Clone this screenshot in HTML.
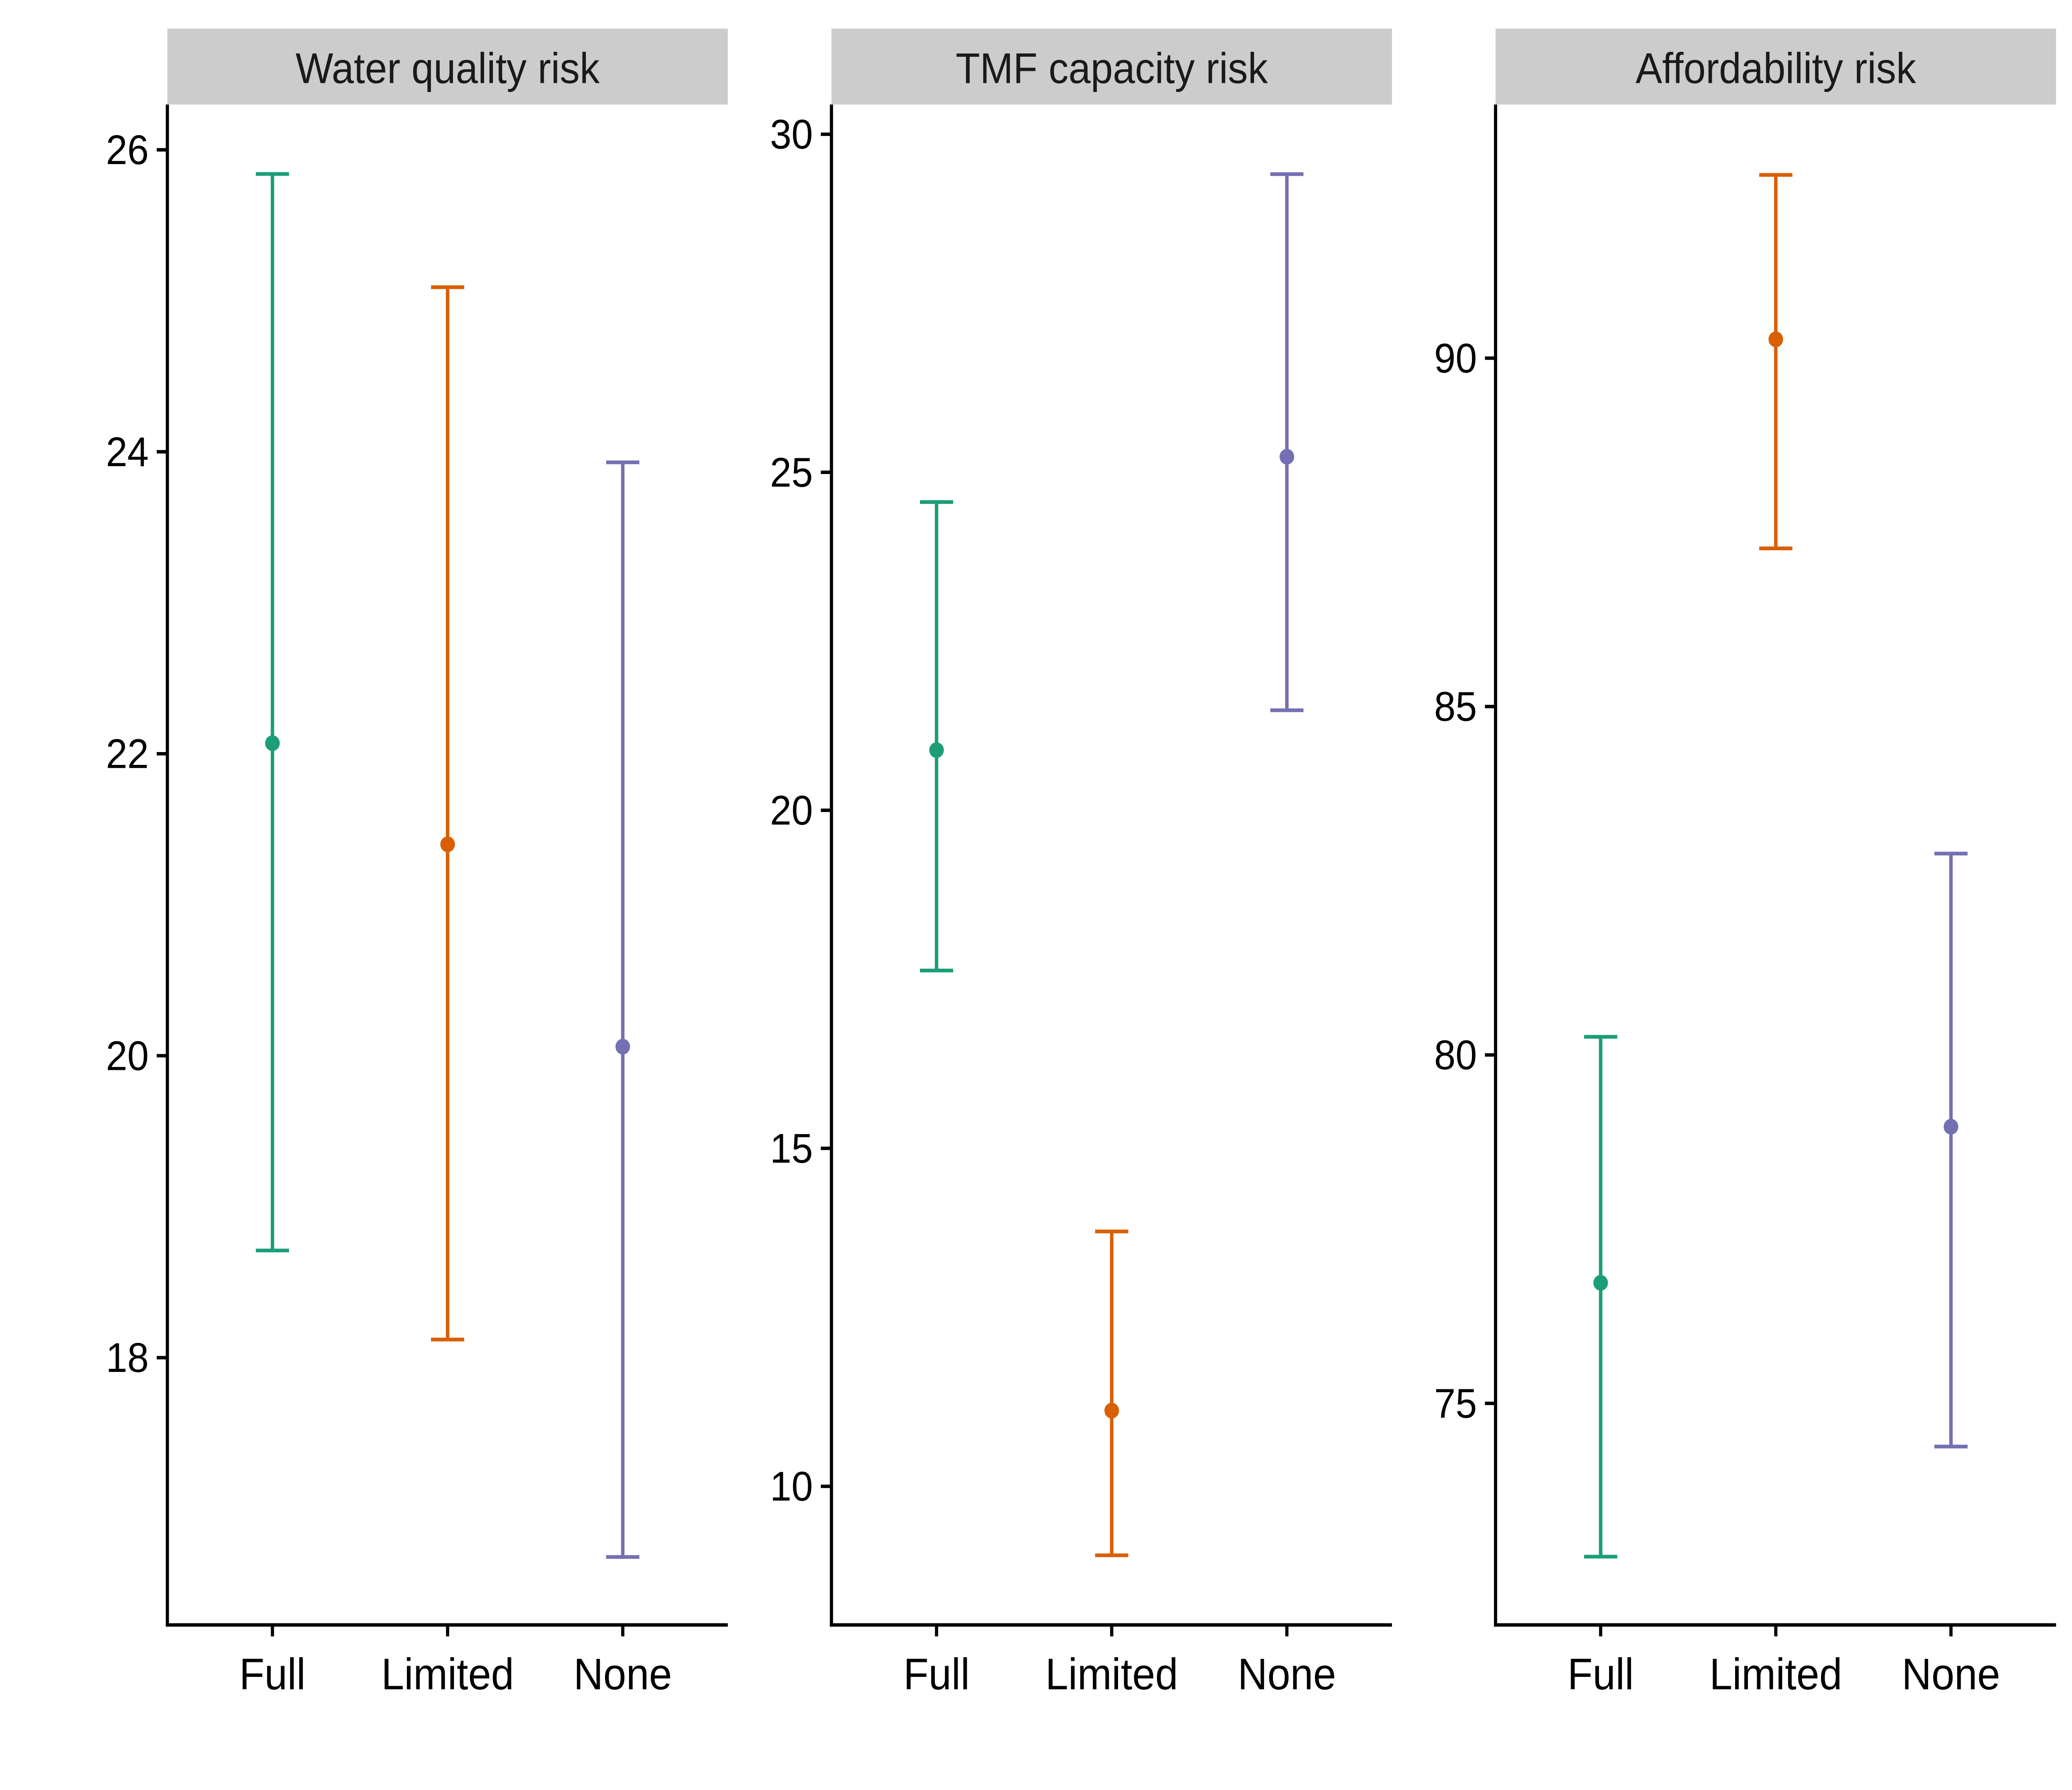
<!DOCTYPE html>
<html><head><meta charset="utf-8"><style>html,body{margin:0;padding:0;background:#fff;overflow:hidden;width:100%;height:100%}svg{display:block;position:fixed;left:0;top:0;width:100vw;height:100vh}</style></head>
<body>
<svg id="chart" xmlns="http://www.w3.org/2000/svg" viewBox="0 0 1560 1250.3" preserveAspectRatio="none" font-family="'Liberation Sans', sans-serif"></svg>
<script>
const categories = ["Full","Limited","None"];
const colors = ["#1b9e77","#d95f02","#7570b3"];
const panelTitles = ["Water quality risk","TMF capacity risk","Affordability risk"];
const waterMean = [22.07, 21.40, 20.06];
const waterLow = [18.71, 18.12, 16.68];
const waterHigh = [25.84, 25.09, 23.93];
const tmfMean = [20.89, 11.12, 25.23];
const tmfLow = [17.63, 8.98, 21.48];
const tmfHigh = [24.56, 13.77, 29.41];
const affMean = [76.73, 90.27, 78.97];
const affLow = [72.8, 87.27, 74.38];
const affHigh = [80.26, 92.63, 82.89];
const waterTicks = [18, 20, 22, 24, 26];
const tmfTicks = [10, 15, 20, 25, 30];
const affTicks = [75, 80, 85, 90];
const waterDomain = [16.23, 26.30];
const tmfDomain = [7.95, 30.44];
const affDomain = [71.82, 93.64];

const NS = "http://www.w3.org/2000/svg";
const svg = document.getElementById("chart");
function mk(tag, attrs, parent, text) {
  const e = document.createElementNS(NS, tag);
  for (const k in attrs) e.setAttribute(k, attrs[k]);
  if (text !== undefined) e.textContent = text;
  parent.appendChild(e);
  return e;
}
const panels = [
  {mean: waterMean, low: waterLow, high: waterHigh, ticks: waterTicks, dom: waterDomain},
  {mean: tmfMean, low: tmfLow, high: tmfHigh, ticks: tmfTicks, dom: tmfDomain},
  {mean: affMean, low: affLow, high: affHigh, ticks: affTicks, dom: affDomain}
];
const plotTop = 73, plotBottom = 1135, pw = 422;
panels.forEach((p, i) => {
  const x0 = 126 + i * 500;
  const g = mk("g", {}, svg);
  
  
  const y = v => plotBottom - (v - p.dom[0]) / (p.dom[1] - p.dom[0]) * (plotBottom - plotTop);
  const x = k => x0 + (0.6 + k) * (pw / 3.2);
  const strip = mk("rect", {x: x0, y: 20, width: pw, height: 53, fill: "#cccccc"}, g);
  
  
  const st = mk("text", {x: x0 + pw / 2, y: 58, "text-anchor": "middle", "font-size": 30, fill: "#1a1a1a"}, g, panelTitles[i]);
  
  
  const ya = mk("line", {x1: x0, x2: x0, y1: plotTop, y2: plotBottom + 1.2, stroke: "#000", "stroke-width": 2.4}, g);
  
  
  const xa = mk("line", {x1: x0 - 1.2, x2: x0 + pw, y1: plotBottom, y2: plotBottom, stroke: "#000", "stroke-width": 2.4}, g);
  
  
  p.ticks.forEach(t => {
    const tk = mk("line", {x1: x0 - 8, x2: x0, y1: y(t), y2: y(t), stroke: "#000", "stroke-width": 2.4}, g);
    
    
    const tl = mk("text", {x: x0 - 14, y: y(t) + 10, "text-anchor": "end", "font-size": 29, fill: "#000"}, g, String(t));
    
    
  });
  categories.forEach((c, k) => {
    const tk = mk("line", {x1: x(k), x2: x(k), y1: plotBottom, y2: plotBottom + 8, stroke: "#000", "stroke-width": 2.4}, g);
    
    
    const tl = mk("text", {x: x(k), y: plotBottom + 45, "text-anchor": "middle", "font-size": 31, fill: "#000"}, g, c);
    
    
    const eb = mk("g", {stroke: colors[k], "stroke-width": 2.6}, g);
    
    
    mk("line", {x1: x(k), x2: x(k), y1: y(p.low[k]), y2: y(p.high[k])}, eb);
    mk("line", {x1: x(k) - 12.5, x2: x(k) + 12.5, y1: y(p.low[k]), y2: y(p.low[k])}, eb);
    mk("line", {x1: x(k) - 12.5, x2: x(k) + 12.5, y1: y(p.high[k]), y2: y(p.high[k])}, eb);
    const pt = mk("circle", {cx: x(k), cy: y(p.mean[k]), r: 5.5, fill: colors[k]}, g);
    
    
  });
});
</script>
</body></html>
